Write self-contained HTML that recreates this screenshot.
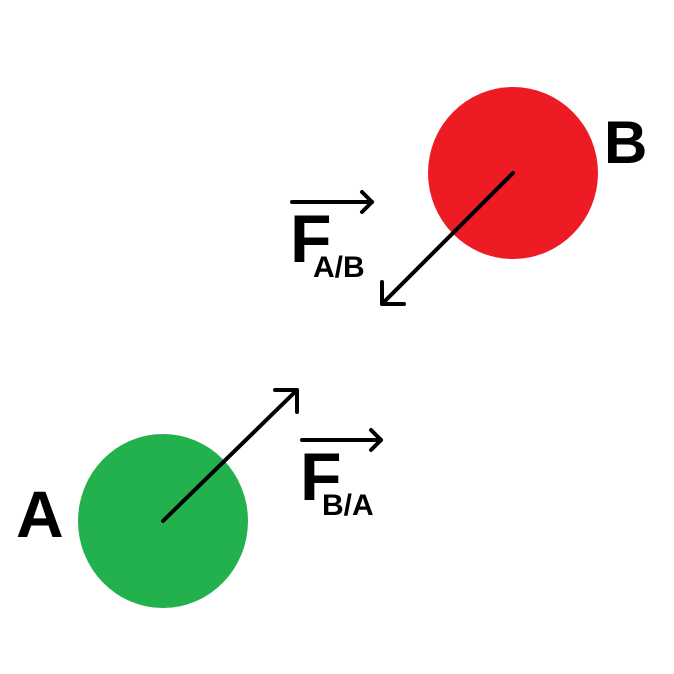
<!DOCTYPE html>
<html><head><meta charset="utf-8"><style>
html,body{margin:0;padding:0;background:#fff;}
svg{display:block;}
text{font-family:"Liberation Sans",Arial,sans-serif;font-weight:bold;fill:#000;}
</style></head><body>
<svg width="674" height="674" viewBox="0 0 674 674">
<rect width="674" height="674" fill="#fff"/>
<ellipse cx="513" cy="173" rx="85" ry="86" fill="#ed1c24"/>
<ellipse cx="163" cy="521" rx="85" ry="87" fill="#22b14c"/>
<g stroke="#000" stroke-width="4" fill="none" stroke-linecap="round" stroke-linejoin="round">
<g>
<line x1="513" y1="173" x2="382" y2="304"/>
<polyline points="382,282 382,304 404,304"/>
</g>
<g>
<line x1="163" y1="521" x2="297" y2="390"/>
<polyline points="275,390 297,390 297,412"/>
</g>
<g>
<line x1="292" y1="202" x2="372" y2="202"/>
<polyline points="362,192 372,202 362,212"/>
</g>
<g>
<line x1="302" y1="440" x2="381" y2="440"/>
<polyline points="371,430 381,440 371,450"/>
</g>
</g>
<text x="604" y="163" font-size="60">B</text>
<text x="16" y="537" font-size="66">A</text>
<text x="290" y="262" font-size="68">F</text>
<text x="313" y="277" font-size="30">A/B</text>
<text x="300" y="500" font-size="68">F</text>
<text x="322" y="515" font-size="30">B/A</text>
</svg>
</body></html>
